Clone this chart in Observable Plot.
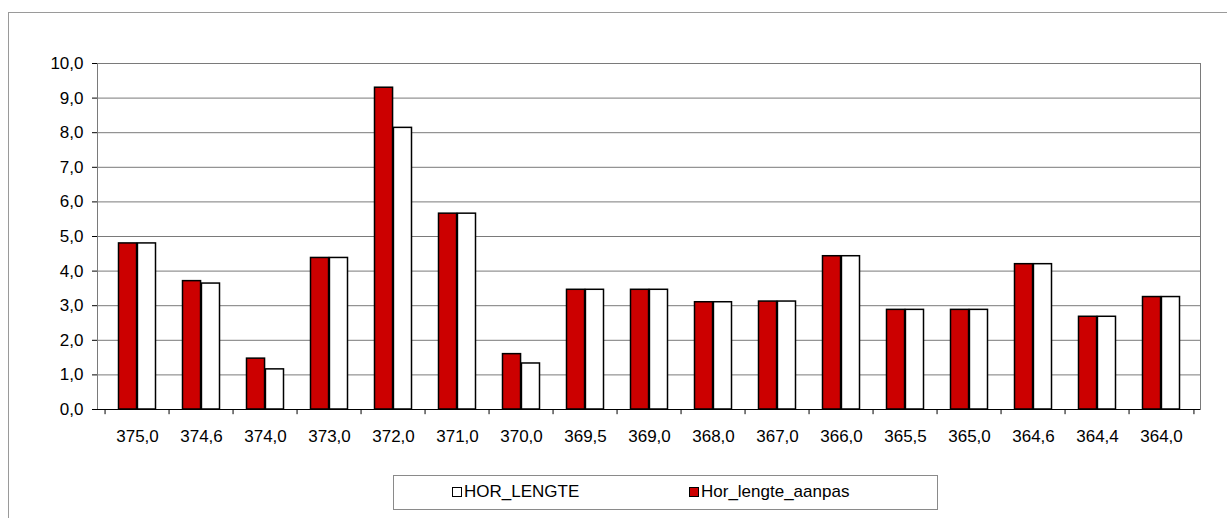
<!DOCTYPE html>
<html>
<head>
<meta charset="utf-8">
<script src="https://cdn.jsdelivr.net/npm/d3@7"></script>
<script src="https://cdn.jsdelivr.net/npm/@observablehq/plot@0.6"></script>
<style>
  body { margin: 0; background: #fff; }
  #wrap { position: relative; width: 1227px; height: 518px; overflow: hidden; font-family: "Liberation Sans", Arial, sans-serif; }
  #frame { position: absolute; left: 8px; top: 12px; width: 1240px; height: 520px; border-left: 1px solid #9a9a9a; border-top: 1px solid #9a9a9a; }
  #chart { position: absolute; left: 0; top: 0; }
  #legend { position: absolute; left: 393px; top: 475px; width: 543px; height: 33px; border: 1px solid #8a8a8a; background: #fff; font-size: 17px; color: #000; }
  .item { position: absolute; top: 6px; display: flex; align-items: center; line-height: 20px; }
  .sw { width: 8px; height: 8px; border: 1.5px solid #000; margin-right: 2px; }
</style>
</head>
<body>
<div id="wrap">
  <div id="frame"></div>
  <div id="chart"></div>
  <div id="legend">
    <div class="item" style="left:58px"><span class="sw" style="background:#fff"></span><span id="l1"></span></div>
    <div class="item" style="left:295px"><span class="sw" style="background:#cc0000"></span><span id="l2"></span></div>
  </div>
</div>
<script>
const categories = ["375,0","374,6","374,0","373,0","372,0","371,0","370,0","369,5","369,0","368,0","367,0","366,0","365,5","365,0","364,6","364,4","364,0"];
const horLengte = [4.8, 3.64, 1.16, 4.38, 8.14, 5.66, 1.33, 3.46, 3.46, 3.1, 3.12, 4.43, 2.88, 2.88, 4.2, 2.68, 3.25];
const horLengteAanpas = [4.8, 3.71, 1.47, 4.38, 9.3, 5.66, 1.6, 3.46, 3.46, 3.1, 3.12, 4.43, 2.88, 2.88, 4.2, 2.68, 3.25];
const seriesNames = ["HOR_LENGTE", "Hor_lengte_aanpas"];
const yTicks = [0,1,2,3,4,5,6,7,8,9,10];

document.getElementById("l1").textContent = seriesNames[0];
document.getElementById("l2").textContent = seriesNames[1];

const red = categories.map((c, i) => ({cat: c, v: horLengteAanpas[i]}));
const white = categories.map((c, i) => ({cat: c, v: horLengte[i]}));

const W = 1227, mL = 97, mR = 27;
const bw = (W - mL - mR) / categories.length;
const half = bw / 2;
const outer = 13.5;

const plot = Plot.plot({
  width: W,
  height: 460,
  marginLeft: mL,
  marginRight: mR,
  marginTop: 63,
  marginBottom: 51,
  style: {fontFamily: "Liberation Sans, Arial, sans-serif", fontSize: "17px", color: "#000", background: "transparent", overflow: "visible"},
  x: {domain: categories, padding: 0, label: null},
  y: {domain: [0, 10], label: null},
  marks: [
    Plot.gridY(yTicks, {stroke: "#7a7a7a", strokeOpacity: 1, strokeWidth: 1}),
    Plot.frame({stroke: "#7a7a7a", strokeWidth: 1}),
    Plot.barY(red, {x: "cat", y: "v", fill: "#cc0000", stroke: "#000", strokeWidth: 1.5, insetLeft: outer, insetRight: half}),
    Plot.barY(white, {x: "cat", y: "v", fill: "#fff", stroke: "#000", strokeWidth: 1.5, insetLeft: half, insetRight: outer}),
    Plot.ruleY([0], {stroke: "#000", strokeWidth: 1.2}),
    Plot.ruleX(categories, {x: d => d, dx: -half, y1: 0, y2: -0.15, stroke: "#000"}),
    Plot.ruleX([categories[categories.length - 1]], {x: d => d, dx: half, y1: 0, y2: -0.15, stroke: "#000"}),
    Plot.axisY(yTicks, {tickSize: 5, tickPadding: 9, tickFormat: d => d.toFixed(1).replace(".", ","), fontSize: 17}),
    Plot.axisX({tickSize: 0, tickPadding: 20, fontSize: 17})
  ]
});
document.getElementById("chart").appendChild(plot);
</script>
</body>
</html>
